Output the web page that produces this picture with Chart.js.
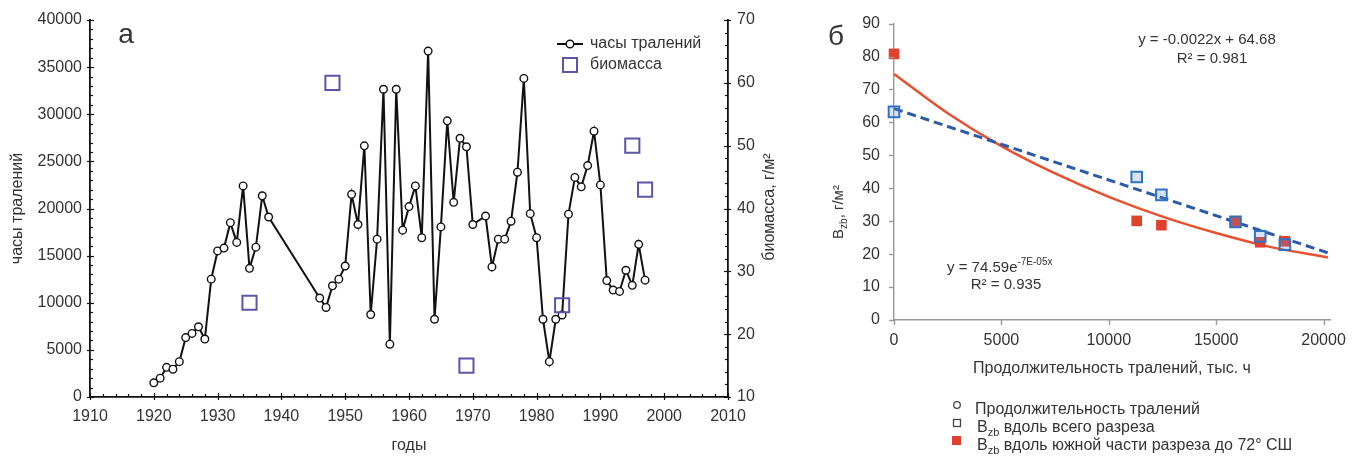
<!DOCTYPE html>
<html lang="ru">
<head>
<meta charset="utf-8">
<title>Часы тралений и биомасса</title>
<script src="https://cdn.jsdelivr.net/npm/chart.js@4.4.1/dist/chart.umd.min.js"></script>
<style>
  html, body { margin: 0; padding: 0; background: #fff; }
  body { width: 1361px; height: 459px; position: relative; overflow: hidden; }
  .panel { position: absolute; top: 0; }
  #panelA { left: 0; }
  #panelB { left: 820px; }
</style>
</head>
<body>
<div class="panel" id="panelA"><canvas id="trawlChart" width="800" height="459"></canvas></div>
<div class="panel" id="panelB"><canvas id="effortChart" width="541" height="459"></canvas></div>
<script>
// panel а: trawling hours by year, biomass samples on the right axis
const trawlYears = [1920, 1921, 1922, 1923, 1924, 1925, 1926, 1927, 1928, 1929, 1930, 1931, 1932, 1933, 1934, 1935, 1936, 1937, 1938,
  1946, 1947, 1948, 1949, 1950, 1951, 1952, 1953, 1954, 1955, 1956, 1957, 1958, 1959, 1960, 1961, 1962, 1963, 1964, 1965, 1966, 1967, 1968, 1969, 1970,
  1972, 1973, 1974, 1975, 1976, 1977, 1978, 1979, 1980, 1981, 1982, 1983, 1984, 1985, 1986, 1987, 1988, 1989, 1990, 1991, 1992, 1993, 1994, 1995, 1996, 1997];
const trawlHours = [1500, 2000, 3150, 2950, 3750, 6300, 6750, 7450, 6150, 12500, 15500, 15800, 18500, 16400, 22400, 13650, 15900, 21350, 19100,
  10500, 9500, 11800, 12500, 13900, 21500, 18300, 26650, 8750, 16750, 32650, 5600, 32650, 17700, 20200, 22400, 16900, 36700, 8250, 18050, 29300, 20650, 27450, 26550, 18300,
  19200, 13800, 16750, 16750, 18650, 23850, 33800, 19450, 16900, 8250, 3750, 8250, 8700, 19400, 23300, 22300, 24550, 28200, 22500, 12350, 11350, 11200, 13450, 11850, 16200, 12400];
const biomassYears = [1935, 1948, 1969, 1984, 1995, 1997];
const biomassValues = [25, 60, 15, 24.6, 50, 43];

const yearTicks = [1910, 1920, 1930, 1940, 1950, 1960, 1970, 1980, 1990, 2000, 2010];
const hourTicks = [0, 5000, 10000, 15000, 20000, 25000, 30000, 35000, 40000];
const biomassTicks = [10, 20, 30, 40, 50, 60, 70];

// panel б: biomass vs total trawling duration
const effortAll = [0, 11300, 12450, 15900, 17050, 18200];
const bzbAll = [63.2, 43.4, 38, 29.8, 25.4, 22.9];
const effortSouth = [0, 11300, 12450, 15900, 17050, 18200];
const bzbSouth = [80.8, 30.1, 28.8, 29.8, 23.6, 23.9];
const linTrendX = [0, 20200];
const linTrendY = [64.2, 20.4];
const expTrendX = [0, 2500, 5000, 7500, 10000, 12500, 15000, 17500, 20200];
const expTrendY = [74.7, 62.8, 52.8, 44.5, 37.4, 31.4, 26.4, 22.2, 19.0];

const effortTicks = [0, 5000, 10000, 15000, 20000];
const bzbTicks = [0, 10, 20, 30, 40, 50, 60, 70, 80, 90];

const FONT = '"Liberation Sans", Arial, sans-serif';
const TEXT = '#333';
Chart.defaults.font.family = FONT;
Chart.defaults.color = TEXT;

const pairs = (xs, ys) => xs.map((x, i) => ({ x, y: ys[i] }));
const fixedTicks = list => scale => { scale.ticks = list.map(value => ({ value })); };
const plain = value => String(value);

// text with sub/superscript pieces: [[text, ''|'sub'|'sup'], ...]
function drawRich(ctx, parts, x, y, size, align) {
  const fontFor = m => `${m ? Math.round(size * 0.68) : size}px ${FONT}`;
  let w = 0;
  parts.forEach(([t, m]) => { ctx.font = fontFor(m); w += ctx.measureText(t).width; });
  let cx = align === 'center' ? x - w / 2 : x;
  ctx.textAlign = 'left';
  ctx.textBaseline = 'middle';
  parts.forEach(([t, m]) => {
    ctx.font = fontFor(m);
    const dy = m === 'sub' ? size * 0.32 : m === 'sup' ? -size * 0.36 : 0;
    ctx.fillText(t, cx, y + dy);
    cx += ctx.measureText(t).width;
  });
}

function drawLabels(ctx, labels) {
  labels.forEach(l => {
    ctx.save();
    ctx.fillStyle = l.color || TEXT;
    ctx.translate(l.x, l.y);
    if (l.rotate) ctx.rotate(-Math.PI / 2);
    drawRich(ctx, l.parts, 0, 0, l.size, l.align || 'left');
    ctx.restore();
  });
}

// tick marks along the axis lines, [inside, outside] lengths
function tickMarks(chart, id, step, major, minor) {
  const { ctx, chartArea } = chart;
  const s = chart.scales[id];
  for (let v = s.min; v <= s.max + 1e-6; v += step) {
    const isMajor = s.ticks.some(t => Math.abs(t.value - v) < 1e-6);
    const [inner, outer] = isMajor ? major : minor;
    if (!inner && !outer) continue;
    const p = Math.round(s.getPixelForValue(v)) + 0.5;
    ctx.beginPath();
    if (s.isHorizontal()) {
      ctx.moveTo(p, chartArea.bottom - inner);
      ctx.lineTo(p, chartArea.bottom + outer);
    } else if (s.position === 'left') {
      ctx.moveTo(chartArea.left + inner, p);
      ctx.lineTo(chartArea.left - outer, p);
    } else {
      ctx.moveTo(chartArea.right - inner, p);
      ctx.lineTo(chartArea.right + outer, p);
    }
    ctx.stroke();
  }
}

const trawlDecor = {
  id: 'trawlDecor',
  afterDraw(chart) {
    const ctx = chart.ctx;
    ctx.save();
    ctx.strokeStyle = '#111';
    ctx.lineWidth = 1.2;
    tickMarks(chart, 'x', 2, [4, 3], [3, 0]);
    tickMarks(chart, 'y', 1000, [4, 3], [3, 0]);
    tickMarks(chart, 'y1', 2, [4, 3], [3, 0]);

    // legend
    ctx.lineWidth = 2;
    ctx.beginPath();
    ctx.moveTo(557, 44);
    ctx.lineTo(583, 44);
    ctx.stroke();
    ctx.beginPath();
    ctx.arc(570, 44, 3.8, 0, Math.PI * 2);
    ctx.fillStyle = '#fff';
    ctx.fill();
    ctx.lineWidth = 1.4;
    ctx.stroke();
    ctx.strokeStyle = '#5b56a6';
    ctx.lineWidth = 2;
    ctx.strokeRect(563, 58, 14, 14);
    ctx.restore();

    drawLabels(ctx, [
      { parts: [['часы тралений', '']], x: 590, y: 44, size: 16 },
      { parts: [['биомасса', '']], x: 590, y: 65, size: 16 },
      { parts: [['а', '']], x: 126, y: 35, size: 28, align: 'center' },
      { parts: [['биомасса, г/м²', '']], x: 770, y: 207, size: 16, rotate: true, align: 'center' }
    ]);
  }
};

new Chart(document.getElementById('trawlChart'), {
  type: 'scatter',
  data: {
    datasets: [
      {
        label: 'биомасса',
        data: pairs(biomassYears, biomassValues),
        yAxisID: 'y1',
        clip: false,
        pointStyle: 'rect',
        radius: 10,
        borderColor: '#5b56a6',
        borderWidth: 2,
        backgroundColor: 'rgba(0,0,0,0)'
      },
      {
        label: 'часы тралений',
        data: pairs(trawlYears, trawlHours),
        yAxisID: 'y',
        clip: false,
        showLine: true,
        borderColor: '#111',
        borderWidth: 2,
        pointRadius: 3.8,
        pointBorderWidth: 1.4,
        pointBackgroundColor: '#fff',
        pointBorderColor: '#111'
      }
    ]
  },
  options: {
    responsive: false,
    animation: false,
    events: [],
    layout: { padding: { top: 20, left: 0, right: 0, bottom: 0 } },
    plugins: { legend: { display: false }, tooltip: { enabled: false } },
    scales: {
      x: {
        type: 'linear', min: 1910, max: 2010,
        afterBuildTicks: fixedTicks(yearTicks),
        afterFit: s => { s.height = 62; },
        grid: { display: false, drawTicks: false },
        border: { display: true, color: '#111', width: 1.8 },
        ticks: { font: { size: 16 }, padding: 10, maxRotation: 0, callback: plain },
        title: { display: true, text: 'годы', font: { size: 16 }, padding: { top: 4, bottom: 4 } }
      },
      y: {
        position: 'left', min: 0, max: 40000,
        afterBuildTicks: fixedTicks(hourTicks),
        afterFit: s => { s.width = 90; },
        grid: { display: false, drawTicks: false },
        border: { display: true, color: '#111', width: 1.8 },
        ticks: { font: { size: 16 }, padding: 8, callback: plain },
        title: { display: true, text: 'часы тралений', font: { size: 16 }, padding: { top: 8, bottom: 0 } }
      },
      y1: {
        position: 'right', min: 10, max: 70,
        afterBuildTicks: fixedTicks(biomassTicks),
        afterFit: s => { s.width = 72; },
        grid: { display: false, drawTicks: false },
        border: { display: true, color: '#111', width: 1.8 },
        ticks: { font: { size: 16 }, padding: 9, callback: plain }
      }
    }
  },
  plugins: [trawlDecor]
});

const effortDecor = {
  id: 'effortDecor',
  afterDraw(chart) {
    const ctx = chart.ctx;
    ctx.save();
    ctx.strokeStyle = '#999';
    ctx.lineWidth = 1.4;
    tickMarks(chart, 'x', 5000, [0, 5], [0, 0]);
    tickMarks(chart, 'y', 10, [0, 5], [0, 0]);

    // legend symbols
    ctx.strokeStyle = '#444';
    ctx.lineWidth = 1.3;
    ctx.beginPath();
    ctx.arc(137, 405, 3.3, 0, Math.PI * 2);
    ctx.stroke();
    ctx.strokeRect(133.5, 419.5, 7, 7);
    ctx.fillStyle = '#e0402c';
    ctx.fillRect(132, 436, 9, 9);
    ctx.restore();

    drawLabels(ctx, [
      { parts: [['б', '']], x: 16, y: 37, size: 28, align: 'center' },
      { parts: [['y = -0.0022x + 64.68', '']], x: 387, y: 40, size: 15, align: 'center' },
      { parts: [['R² = 0.981', '']], x: 392, y: 59, size: 15, align: 'center' },
      { parts: [['y = 74.59e', ''], ['-7E-05x', 'sup']], x: 127, y: 268, size: 15 },
      { parts: [['R² = 0.935', '']], x: 186, y: 285, size: 15, align: 'center' },
      { parts: [['B', ''], ['zb', 'sub'], [', г/м²', '']], x: 19, y: 212, size: 15, rotate: true, align: 'center' },
      { parts: [['Продолжительность тралений', '']], x: 155, y: 410, size: 16 },
      { parts: [['B', ''], ['zb', 'sub'], [' вдоль всего разреза', '']], x: 157, y: 428, size: 16 },
      { parts: [['B', ''], ['zb', 'sub'], [' вдоль южной части разреза до 72° СШ', '']], x: 157, y: 446, size: 16 }
    ]);
  }
};

new Chart(document.getElementById('effortChart'), {
  type: 'scatter',
  data: {
    datasets: [
      {
        label: 'Bzb вдоль всего разреза',
        data: pairs(effortAll, bzbAll),
        clip: false,
        pointStyle: 'rect',
        radius: 7.5,
        borderColor: '#2f73c2',
        borderWidth: 2,
        backgroundColor: 'rgba(90,140,210,0.25)'
      },
      {
        label: 'Bzb вдоль южной части разреза до 72° СШ',
        data: pairs(effortSouth, bzbSouth),
        clip: false,
        pointStyle: 'rect',
        radius: 7.5,
        borderWidth: 0,
        backgroundColor: '#e0402c'
      },
      {
        label: 'линейный тренд',
        data: pairs(linTrendX, linTrendY),
        clip: false,
        showLine: true,
        pointRadius: 0,
        borderColor: '#2b5aa8',
        borderWidth: 3,
        borderDash: [9, 5]
      },
      {
        label: 'экспоненциальный тренд',
        data: pairs(expTrendX, expTrendY),
        clip: false,
        showLine: true,
        cubicInterpolationMode: 'monotone',
        pointRadius: 0,
        borderColor: '#e8502f',
        borderWidth: 2.5
      }
    ]
  },
  options: {
    responsive: false,
    animation: false,
    events: [],
    layout: { padding: { top: 18, left: 0, right: 31, bottom: 0 } },
    plugins: { legend: { display: false }, tooltip: { enabled: false } },
    scales: {
      x: {
        type: 'linear', min: 0, max: 20300,
        afterBuildTicks: fixedTicks(effortTicks),
        afterFit: s => { s.height = 139; },
        grid: { display: false, drawTicks: false },
        border: { display: true, color: '#999', width: 1.4 },
        ticks: { font: { size: 16 }, padding: 11, maxRotation: 0, callback: plain },
        title: { display: true, text: 'Продолжительность тралений, тыс. ч', font: { size: 16 }, padding: { top: 4, bottom: 81 } }
      },
      y: {
        min: 0, max: 90,
        afterBuildTicks: fixedTicks(bzbTicks),
        afterFit: s => { s.width = 74; },
        grid: { display: false, drawTicks: false },
        border: { display: true, color: '#999', width: 1.4 },
        ticks: { font: { size: 16 }, padding: 14, callback: plain }
      }
    }
  },
  plugins: [effortDecor]
});
</script>
</body>
</html>
